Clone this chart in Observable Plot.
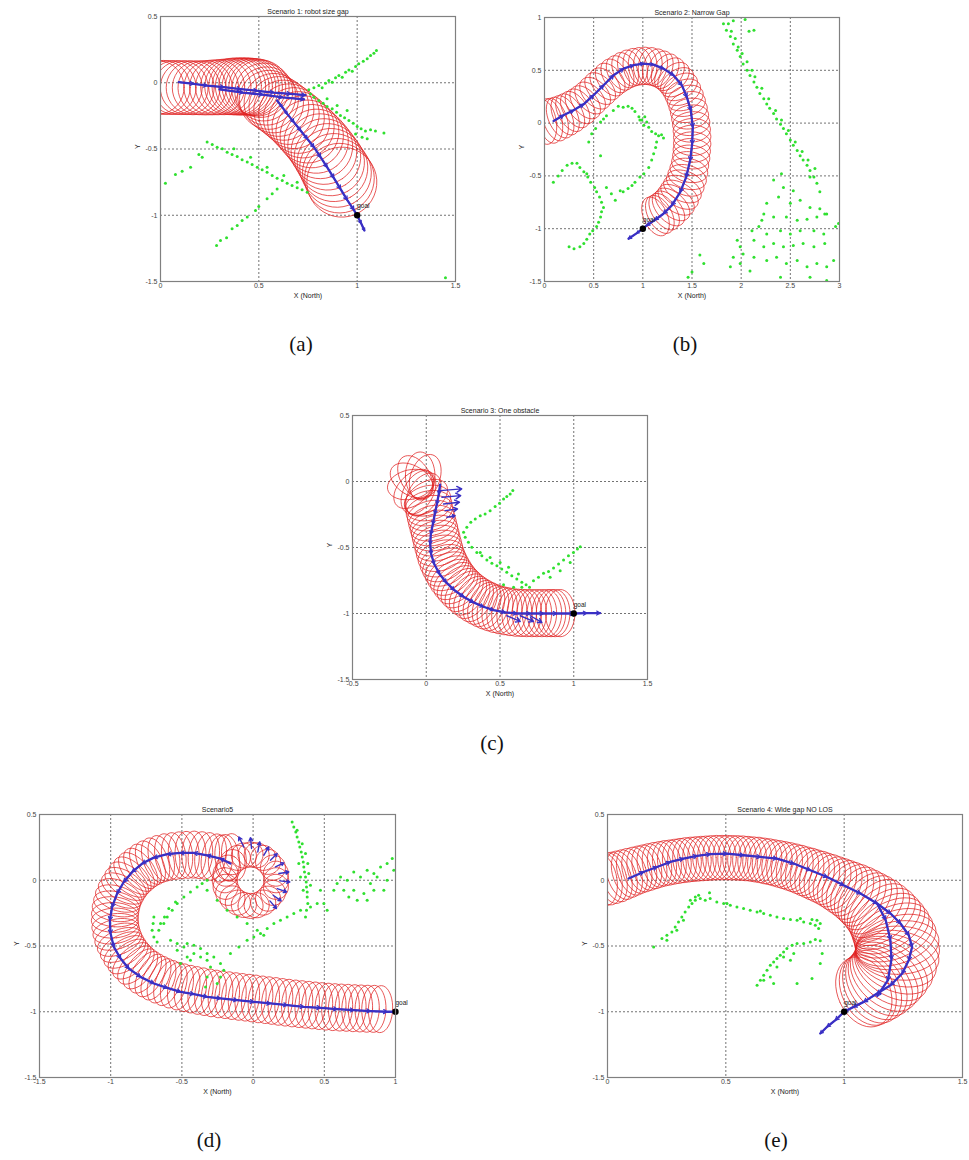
<!DOCTYPE html>
<html><head><meta charset="utf-8">
<script src="https://cdn.jsdelivr.net/npm/d3@7"></script>
<script src="https://cdn.jsdelivr.net/npm/@observablehq/plot@0.6"></script>
<style>
html,body{margin:0;padding:0;background:#fff;}
#page{position:relative;width:969px;height:1160px;overflow:hidden;background:#fff;}
.panel{position:absolute;}
.cap{position:absolute;font-family:"Liberation Serif","Times New Roman",serif;font-size:21px;color:#111;transform:translate(-50%,-50%);white-space:nowrap;}
</style></head><body><div id="page"></div>
<script>
// ---------------- Scenario 1 (a) ----------------
const aTitle = "Scenario 1: robot size gap";
const aXTicks = [0, 0.5, 1, 1.5];
const aYTicks = [-1.5, -1, -0.5, 0, 0.5];
const aTube = [[-0.017,-0.035],[0.014,-0.035],[0.044,-0.036],[0.075,-0.036],[0.105,-0.037],[0.136,-0.037],[0.166,-0.038],[0.197,-0.038],[0.227,-0.038],[0.258,-0.036],[0.288,-0.034],[0.319,-0.032],[0.346,-0.030],[0.369,-0.028],[0.390,-0.028],[0.407,-0.028],[0.424,-0.028],[0.441,-0.028],[0.458,-0.030],[0.475,-0.032],[0.492,-0.036],[0.508,-0.045],[0.525,-0.070],[0.540,-0.100],[0.551,-0.129],[0.576,-0.154],[0.602,-0.179],[0.627,-0.207],[0.653,-0.237],[0.678,-0.267],[0.702,-0.300],[0.725,-0.333],[0.747,-0.368],[0.769,-0.403],[0.792,-0.441],[0.812,-0.479],[0.831,-0.519],[0.849,-0.559],[0.866,-0.599],[0.881,-0.640],[0.897,-0.680],[0.910,-0.720],[0.922,-0.750]];
const aTubeR = [0.137,0.137,0.137,0.137,0.137,0.137,0.137,0.137,0.138,0.139,0.140,0.141,0.142,0.144,0.145,0.145,0.145,0.145,0.145,0.145,0.145,0.146,0.147,0.148,0.150,0.151,0.152,0.153,0.154,0.155,0.157,0.158,0.160,0.161,0.163,0.165,0.167,0.169,0.171,0.173,0.175,0.177,0.178];
const aPath1 = [[0.093,0.004],[0.169,-0.008],[0.237,-0.021],[0.322,-0.033],[0.407,-0.048],[0.492,-0.061],[0.576,-0.074],[0.661,-0.084],[0.737,-0.094]];
const aPath2 = [[0.30,-0.05],[0.42,-0.075],[0.52,-0.09],[0.62,-0.11],[0.73,-0.125]];
const aPath3 = [[0.593,-0.134],[0.619,-0.184],[0.644,-0.235],[0.678,-0.297],[0.712,-0.360],[0.746,-0.423],[0.780,-0.486],[0.814,-0.562],[0.847,-0.637],[0.881,-0.718],[0.915,-0.801],[0.949,-0.884],[0.983,-0.959],[1.0,-1.002],[1.020,-1.060],[1.037,-1.115]];
const aObs = [[0.754,-0.053],[0.780,-0.038],[0.805,-0.021],[0.822,-0.038],[0.839,-0.003],[0.856,0.017],[0.873,0.004],[0.890,0.037],[0.907,0.055],[0.924,0.042],[0.941,0.080],[0.958,0.097],[0.975,0.087],[0.992,0.123],[1.008,0.143],[1.031,0.163],[1.051,0.181],[1.068,0.206],[1.085,0.223],[1.098,0.243],
[0.763,-0.084],[0.780,-0.109],[0.805,-0.134],[0.827,-0.154],[0.847,-0.179],[0.873,-0.197],[0.895,-0.222],[0.915,-0.247],[0.936,-0.265],[0.958,-0.285],[0.980,-0.305],[1.0,-0.330],[1.020,-0.348],[1.042,-0.365],[1.068,-0.355],[1.093,-0.365],[1.136,-0.380],[0.992,-0.386],[1.025,-0.411],[1.051,-0.423],[0.847,-0.121],[0.898,-0.172],[0.949,-0.209],
[0.237,-0.448],[0.263,-0.466],[0.288,-0.486],[0.314,-0.499],[0.339,-0.524],[0.364,-0.542],[0.390,-0.557],[0.415,-0.582],[0.441,-0.599],[0.466,-0.617],[0.492,-0.637],[0.517,-0.657],[0.542,-0.675],[0.568,-0.700],[0.593,-0.720],[0.619,-0.738],[0.644,-0.758],[0.669,-0.775],[0.695,-0.793],[0.720,-0.808],[0.746,-0.826],[0.373,-0.499],[0.458,-0.562],[0.542,-0.637],[0.627,-0.700],[0.695,-0.750],
[0.212,-0.562],[0.195,-0.542],[0.153,-0.637],[0.110,-0.667],[0.076,-0.692],[0.025,-0.758],
[0.593,-0.801],[0.568,-0.838],[0.542,-0.876],[0.500,-0.934],[0.483,-0.964],[0.441,-1.014],[0.415,-1.040],[0.390,-1.077],[0.364,-1.102],[0.336,-1.170],[0.305,-1.190],[0.285,-1.228],[1.449,-1.472]];

// ---------------- Scenario 2 (b) ----------------
const bTitle = "Scenario 2: Narrow Gap";
const bXTicks = [0, 0.5, 1, 1.5, 2, 2.5, 3];
const bYTicks = [-1.5, -1, -0.5, 0, 0.5, 1];
const bTube = [[0.000,0.011],[0.058,0.020],[0.108,0.033],[0.159,0.052],[0.210,0.074],[0.261,0.099],[0.312,0.128],[0.363,0.159],[0.414,0.197],[0.464,0.238],[0.515,0.283],[0.566,0.327],[0.617,0.371],[0.668,0.412],[0.719,0.447],[0.769,0.475],[0.820,0.501],[0.871,0.520],[0.922,0.532],[0.973,0.539],[1.024,0.542],[1.075,0.539],[1.125,0.529],[1.176,0.513],[1.227,0.491],[1.271,0.463],[1.312,0.428],[1.349,0.387],[1.380,0.343],[1.407,0.292],[1.431,0.238],[1.451,0.181],[1.468,0.121],[1.481,0.058],[1.492,-0.005],[1.498,-0.068],[1.502,-0.131],[1.502,-0.195],[1.498,-0.258],[1.492,-0.321],[1.481,-0.384],[1.468,-0.448],[1.451,-0.511],[1.431,-0.568],[1.403,-0.625],[1.373,-0.678],[1.339,-0.726],[1.302,-0.770],[1.261,-0.808],[1.217,-0.839],[1.173,-0.865],[1.129,-0.884]];
const bAcross = [0.23,0.23,0.225,0.22,0.215,0.21,0.205,0.2,0.195,0.19,0.19,0.19,0.19,0.19,0.19,0.19,0.19,0.19,0.19,0.19,0.19,0.19,0.19,0.19,0.19,0.19,0.19,0.19,0.19,0.19,0.19,0.19,0.19,0.19,0.19,0.19,0.19,0.19,0.19,0.19,0.19,0.195,0.2,0.2,0.205,0.21,0.21,0.21,0.21,0.21,0.21,0.21];
const bAlong = 0.12;
const bPath = [[0.092,0.020],[0.193,0.074],[0.295,0.121],[0.397,0.178],[0.498,0.264],[0.600,0.358],[0.702,0.453],[0.803,0.516],[0.905,0.548],[1.007,0.564],[1.108,0.554],[1.210,0.516],[1.312,0.453],[1.397,0.358],[1.447,0.248],[1.488,0.121],[1.508,-0.037],[1.502,-0.195],[1.481,-0.353],[1.441,-0.511],[1.380,-0.653],[1.295,-0.779],[1.210,-0.858],[1.125,-0.915],[1.041,-0.969],[1.0,-1.0],[0.939,-1.042],[0.854,-1.095]];
const bObs = [[0.45,-0.18],[0.48,-0.10],[0.52,-0.05],[0.57,0.01],[0.60,0.04],[0.63,0.07],[0.70,0.12],[0.75,0.16],[0.80,0.15],[0.85,0.16],[0.89,0.14],[0.92,0.11],[0.96,0.06],[0.99,0.03],[1.01,-0.02],[1.04,0.01],[1.06,-0.04],[1.09,-0.08],[1.13,-0.10],[1.16,-0.12],[1.19,-0.11],[1.21,-0.14],[1.14,-0.18],[1.13,-0.23],[1.11,-0.29],[1.09,-0.35],[1.06,-0.42],[1.01,-0.48],[0.97,-0.51],[0.92,-0.56],[0.89,-0.59],[0.85,-0.62],[0.80,-0.65],[0.77,-0.64],[0.57,-0.31],[0.97,0.03],[1.02,0.06],
[0.09,-0.56],[0.14,-0.50],[0.18,-0.45],[0.23,-0.40],[0.28,-0.38],[0.33,-0.38],[0.36,-0.42],[0.40,-0.46],[0.44,-0.51],[0.47,-0.56],[0.51,-0.61],[0.53,-0.65],[0.56,-0.70],[0.58,-0.75],[0.60,-0.80],[0.58,-0.84],[0.57,-0.89],[0.55,-0.94],[0.53,-0.98],[0.49,-1.02],[0.46,-1.05],[0.43,-1.10],[0.40,-1.14],[0.36,-1.17],[0.30,-1.19],[0.25,-1.17],[0.63,-0.61],[0.68,-0.67],[0.72,-0.73],[0.43,-0.48],
[1.82,0.94],[1.85,0.88],[1.89,0.82],[1.92,0.75],[1.96,0.69],[1.99,0.63],[2.02,0.56],[2.06,0.50],[2.09,0.45],[2.13,0.39],[2.16,0.34],[2.19,0.28],[2.23,0.23],[2.26,0.18],[2.29,0.14],[2.33,0.09],[2.36,0.04],[2.40,-0.01],[2.43,-0.05],[2.46,-0.10],[2.50,-0.16],[2.53,-0.21],[2.57,-0.26],[2.60,-0.31],[2.63,-0.35],[2.67,-0.40],[2.70,-0.45],[2.74,-0.51],[2.77,-0.57],[2.80,-0.65],
[1.87,0.94],[1.90,0.87],[1.94,0.80],[1.97,0.72],[2.01,0.66],[2.06,0.58],[2.11,0.50],[2.14,0.44],[2.21,0.33],[2.28,0.23],[2.35,0.12],[2.41,0.03],[2.48,-0.07],[2.55,-0.18],[2.62,-0.27],[2.68,-0.35],[2.75,-0.43],[2.70,-0.51],[1.92,0.97],[2.04,0.98],[2.13,0.88],[2.08,0.87],[2.80,-0.81],[2.85,-0.86],
[2.33,-0.54],[2.43,-0.61],[2.41,-0.48],[2.53,-0.64],[2.38,-0.70],[2.26,-0.76],[2.50,-0.76],[2.60,-0.73],[2.70,-0.80],[2.23,-0.86],[2.33,-0.89],[2.46,-0.89],[2.57,-0.92],[2.67,-0.91],[2.77,-0.89],[2.87,-0.86],[2.18,-0.98],[2.26,-1.05],[2.40,-1.02],[2.50,-1.05],[2.60,-1.02],[2.74,-1.02],[2.84,-1.05],[2.13,-1.11],[2.23,-1.17],[2.33,-1.14],[2.43,-1.17],[2.53,-1.16],[2.63,-1.14],[2.74,-1.17],[2.85,-1.14],[2.96,-0.98],[2.99,-0.95],[2.02,-1.24],[2.13,-1.27],[2.26,-1.30],[2.36,-1.27],[2.46,-1.33],[2.57,-1.30],[2.67,-1.36],[2.77,-1.33],[2.87,-1.36],[2.94,-1.30],[1.99,-1.33],[2.09,-1.40],[1.92,-1.27],[1.89,-1.36],[2.40,-1.46],[2.70,-1.46],[2.87,-1.49],[1.58,-1.25],[1.62,-1.33],[1.50,-1.41],[1.46,-1.46],[1.99,-1.17],[1.96,-1.11],[2.11,-1.02],[2.21,-0.92]];

// ---------------- Scenario 3 (c) ----------------
const cTitle = "Scenario 3: One obstacle";
const cXTicks = [-0.5, 0, 0.5, 1, 1.5];
const cYTicks = [-1.5, -1, -0.5, 0, 0.5];
const cTube = [[-0.007,0.032],[-0.041,0.045],[-0.075,0.032],[-0.098,0.007],[-0.105,-0.023],[-0.086,-0.056],[-0.053,-0.082],[-0.019,-0.099],[0.0,-0.119],[0.008,-0.145],[0.015,-0.183],[0.022,-0.221],[0.030,-0.258],[0.038,-0.296],[0.047,-0.334],[0.056,-0.372],[0.064,-0.410],[0.072,-0.448],[0.081,-0.486],[0.090,-0.524],[0.100,-0.562],[0.112,-0.600],[0.125,-0.632],[0.140,-0.663],[0.156,-0.695],[0.173,-0.726],[0.192,-0.754],[0.212,-0.782],[0.234,-0.808],[0.257,-0.832],[0.283,-0.856],[0.309,-0.878],[0.337,-0.898],[0.366,-0.916],[0.394,-0.932],[0.422,-0.946],[0.452,-0.958],[0.483,-0.969],[0.514,-0.977],[0.546,-0.984],[0.580,-0.990],[0.614,-0.994],[0.648,-0.996],[0.682,-0.997],[0.716,-0.997],[0.750,-0.997],[0.784,-0.997],[0.818,-0.997],[0.846,-0.997],[0.874,-0.997],[0.908,-0.997]];
const cAcross = 0.160;
const cAlong = 0.10;
const cPath = [[0.094,-0.023],[0.085,-0.094],[0.072,-0.170],[0.058,-0.246],[0.045,-0.322],[0.031,-0.398],[0.027,-0.473],[0.033,-0.549],[0.054,-0.625],[0.090,-0.701],[0.135,-0.764],[0.189,-0.822],[0.253,-0.873],[0.320,-0.916],[0.388,-0.949],[0.456,-0.974],[0.535,-0.992],[0.614,-1.0],[0.705,-1.0],[0.795,-1.0],[0.885,-1.0],[1.0,-1.0],[1.089,-0.997],[1.179,-0.997]];
const cFanFrom = [[0.094,-0.069],[0.106,-0.119],[0.117,-0.170],[0.128,-0.221],[0.140,-0.271],[0.546,-1.017],[0.637,-1.017],[0.705,-1.017]];
const cFanTo = [[0.241,-0.056],[0.234,-0.107],[0.225,-0.157],[0.212,-0.208],[0.196,-0.259],[0.637,-1.060],[0.727,-1.060],[0.784,-1.068]];
const cObs = [[0.253,-0.385],[0.275,-0.347],[0.302,-0.309],[0.332,-0.284],[0.366,-0.259],[0.399,-0.246],[0.433,-0.221],[0.467,-0.190],[0.497,-0.165],[0.524,-0.132],[0.546,-0.114],[0.569,-0.094],[0.587,-0.069],
[0.264,-0.423],[0.286,-0.461],[0.309,-0.499],[0.343,-0.537],[0.377,-0.562],[0.411,-0.595],[0.445,-0.620],[0.479,-0.638],[0.512,-0.663],[0.546,-0.688],[0.580,-0.714],[0.614,-0.739],[0.648,-0.764],[0.677,-0.782],[0.700,-0.802],[0.366,-0.537],[0.433,-0.575],[0.501,-0.613],[0.558,-0.650],[0.625,-0.701],[0.524,-0.782],[0.592,-0.802],[0.648,-0.802],
[0.727,-0.752],[0.761,-0.726],[0.795,-0.696],[0.829,-0.681],[0.863,-0.656],[0.897,-0.625],[0.931,-0.595],[0.964,-0.562],[0.998,-0.537],[1.025,-0.511],[1.044,-0.494],[0.908,-0.676],[0.976,-0.613],[0.840,-0.726]];

// ---------------- Scenario 5 (d) ----------------
const dTitle = "Scenario5";
const dXTicks = [-1.5, -1, -0.5, 0, 0.5, 1];
const dYTicks = [-1.5, -1, -0.5, 0, 0.5];
const dLoop = [[0.162,0.0],[0.139,-0.096],[0.071,-0.170],[-0.018,-0.195],[-0.107,-0.170],[-0.175,-0.096],[-0.199,0.0],[-0.175,0.096],[-0.107,0.170],[-0.018,0.195],[0.071,0.170],[0.139,0.096],[0.160,0.050],[0.105,-0.140],[0.025,-0.190],[-0.065,-0.188],[-0.145,-0.138],[-0.193,-0.050],[-0.193,0.050],[-0.145,0.138],[-0.065,0.188],[0.025,0.190],[0.105,0.140],[0.160,-0.050]];
const dLoopR = 0.088;
const dTube = [[-0.135,0.177],[-0.182,0.170],[-0.229,0.165],[-0.276,0.176],[-0.323,0.185],[-0.370,0.191],[-0.416,0.195],[-0.463,0.193],[-0.510,0.190],[-0.557,0.184],[-0.603,0.177],[-0.645,0.166],[-0.685,0.152],[-0.721,0.134],[-0.756,0.114],[-0.789,0.090],[-0.819,0.063],[-0.847,0.035],[-0.873,0.005],[-0.895,-0.028],[-0.915,-0.063],[-0.933,-0.100],[-0.948,-0.139],[-0.958,-0.180],[-0.966,-0.220],[-0.970,-0.262],[-0.971,-0.304],[-0.968,-0.346],[-0.962,-0.388],[-0.952,-0.429],[-0.938,-0.469],[-0.921,-0.508],[-0.901,-0.545],[-0.878,-0.580],[-0.852,-0.613],[-0.823,-0.645],[-0.791,-0.674],[-0.757,-0.700],[-0.720,-0.724],[-0.682,-0.745],[-0.643,-0.765],[-0.601,-0.782],[-0.557,-0.798],[-0.510,-0.811],[-0.463,-0.823],[-0.416,-0.833],[-0.369,-0.843],[-0.322,-0.852],[-0.276,-0.861],[-0.229,-0.868],[-0.182,-0.874],[-0.135,-0.881],[-0.088,-0.887],[-0.041,-0.893],[0.005,-0.899],[0.052,-0.906],[0.099,-0.912],[0.146,-0.918],[0.192,-0.925],[0.239,-0.931],[0.286,-0.937],[0.333,-0.942],[0.380,-0.947],[0.426,-0.952],[0.473,-0.957],[0.520,-0.961],[0.567,-0.965],[0.614,-0.968],[0.661,-0.970],[0.708,-0.973],[0.754,-0.975],[0.801,-0.977],[0.848,-0.978],[0.895,-0.980]];
const dAcross = 0.165;
const dAlong = 0.085;
const dPath = [[-0.159,0.127],[-0.229,0.165],[-0.323,0.190],[-0.416,0.208],[-0.510,0.208],[-0.603,0.198],[-0.697,0.172],[-0.779,0.127],[-0.849,0.063],[-0.908,-0.013],[-0.955,-0.101],[-0.990,-0.203],[-1.006,-0.304],[-1.001,-0.405],[-0.978,-0.507],[-0.931,-0.595],[-0.873,-0.671],[-0.791,-0.735],[-0.697,-0.785],[-0.603,-0.818],[-0.510,-0.849],[-0.416,-0.866],[-0.323,-0.887],[-0.229,-0.899],[-0.112,-0.912],[0.005,-0.925],[0.122,-0.937],[0.239,-0.950],[0.356,-0.963],[0.473,-0.970],[0.590,-0.980],[0.707,-0.988],[0.824,-0.995],[0.941,-1.0],[1.0,-1.0]];
const dFanFrom = [[-0.065,0.253],[-0.011,0.241],[0.033,0.215],[0.075,0.190],[0.122,0.152],[0.157,0.101],[0.181,0.051],[0.188,-0.005],[0.169,-0.063],[0.141,-0.114],[0.118,-0.157]];
const dFanTo = [[-0.100,0.329],[-0.018,0.324],[0.047,0.291],[0.110,0.253],[0.169,0.203],[0.216,0.132],[0.251,0.063],[0.258,-0.013],[0.235,-0.089],[0.197,-0.157],[0.164,-0.215]];
const dObs = [[0.274,0.443],[0.286,0.405],[0.30,0.367],[0.309,0.329],[0.321,0.291],[0.328,0.253],[0.338,0.215],[0.345,0.177],[0.352,0.139],[0.356,0.101],[0.361,0.063],[0.368,0.025],[0.373,-0.013],[0.375,-0.051],[0.380,-0.089],[0.380,-0.127],[0.384,-0.177],[0.375,-0.228],[0.368,-0.279],[0.309,0.380],[0.345,0.278],[0.368,0.203],[0.384,0.127],[0.391,0.051],[0.403,-0.038],[0.352,-0.076],[0.333,0.025],[0.321,0.127],
[0.614,0.025],[0.661,0.0],[0.707,0.063],[0.754,0.025],[0.801,0.076],[0.848,0.051],[0.895,0.101],[0.941,0.127],[0.977,0.165],[0.988,0.076],[0.637,-0.076],[0.707,-0.076],[0.778,-0.101],[0.848,-0.076],[0.918,-0.076],[0.824,-0.025],[0.567,-0.076],[0.497,-0.177],[0.520,-0.228],[0.473,-0.076],[0.731,-0.152],[0.801,-0.152],[0.871,0.025],[0.672,-0.127],[0.941,0.0],[0.59,-0.025],
[-0.159,-0.557],[-0.100,-0.507],[-0.042,-0.456],[0.005,-0.431],[0.052,-0.405],[0.099,-0.367],[0.146,-0.329],[0.192,-0.304],[0.239,-0.279],[0.286,-0.253],[0.333,-0.228],[0.403,-0.203],[0.450,-0.177],
[-0.697,-0.279],[-0.702,-0.329],[-0.709,-0.380],[-0.697,-0.431],[-0.674,-0.469],[-0.627,-0.329],[-0.603,-0.279],[-0.568,-0.228],[-0.533,-0.177],[-0.486,-0.127],[-0.440,-0.089],[-0.393,-0.051],[-0.358,-0.025],[-0.323,0.0],[-0.662,-0.380],[-0.650,-0.329],[-0.622,-0.279],[-0.592,-0.215],[-0.545,-0.165],
[-0.323,-0.076],[-0.252,-0.152],[-0.182,-0.228],[-0.112,-0.279],[-0.042,-0.329],[0.029,-0.380],[0.075,-0.418],
[-0.580,-0.456],[-0.533,-0.481],[-0.463,-0.481],[-0.416,-0.494],[-0.369,-0.519],[-0.323,-0.557],[-0.276,-0.583],[-0.229,-0.633],[-0.206,-0.684],[-0.229,-0.735],[-0.252,-0.785],[-0.510,-0.633],[-0.463,-0.583],[-0.416,-0.557],[-0.369,-0.583],[-0.323,-0.608],[-0.299,-0.659],[-0.323,-0.735],[-0.334,-0.811],[-0.533,-0.532],[-0.486,-0.507],[-0.440,-0.608]];

// ---------------- Scenario 4 (e) ----------------
const eTitle = "Scenario 4: Wide gap NO LOS";
const eXTicks = [0, 0.5, 1, 1.5];
const eYTicks = [-1.5, -1, -0.5, 0, 0.5];
const eTube = [[-0.020,0.002],[0.000,0.008],[0.020,0.016],[0.039,0.025],[0.060,0.038],[0.082,0.051],[0.103,0.064],[0.124,0.076],[0.145,0.086],[0.166,0.096],[0.188,0.107],[0.209,0.117],[0.230,0.125],[0.251,0.132],[0.272,0.138],[0.293,0.144],[0.315,0.150],[0.336,0.155],[0.357,0.159],[0.378,0.162],[0.399,0.165],[0.420,0.167],[0.441,0.170],[0.462,0.172],[0.484,0.172],[0.505,0.172],[0.526,0.171],[0.547,0.170],[0.568,0.168],[0.589,0.165],[0.611,0.161],[0.632,0.157],[0.653,0.151],[0.674,0.144],[0.695,0.137],[0.716,0.129],[0.737,0.120],[0.758,0.111],[0.780,0.100],[0.801,0.089],[0.822,0.076],[0.843,0.063],[0.864,0.049],[0.885,0.035],[0.906,0.020],[0.928,0.005],[0.949,-0.012],[0.970,-0.030],[0.991,-0.049],[1.012,-0.068],[1.034,-0.089],[1.055,-0.111],[1.075,-0.135],[1.094,-0.160],[1.113,-0.187],[1.132,-0.215],[1.149,-0.247],[1.165,-0.279],[1.178,-0.313],[1.190,-0.347],[1.201,-0.382],[1.210,-0.418],[1.218,-0.456],[1.224,-0.494],[1.225,-0.532],[1.224,-0.570],[1.218,-0.608],[1.210,-0.646],[1.198,-0.680],[1.184,-0.714],[1.169,-0.745],[1.153,-0.773],[1.136,-0.797],[1.118,-0.818],[1.100,-0.835],[1.083,-0.849]];
const eAcross = [0.110,0.110,0.109,0.108,0.106,0.104,0.102,0.100,0.099,0.098,0.097,0.096,0.095,0.095,0.094,0.094,0.094,0.094,0.094,0.094,0.094,0.094,0.094,0.094,0.094,0.094,0.094,0.094,0.094,0.094,0.094,0.095,0.095,0.096,0.096,0.097,0.098,0.099,0.100,0.101,0.102,0.104,0.105,0.107,0.108,0.110,0.112,0.115,0.118,0.121,0.125,0.129,0.133,0.137,0.142,0.147,0.152,0.157,0.162,0.166,0.170,0.173,0.176,0.178,0.178,0.178,0.177,0.175,0.173,0.170,0.168,0.165,0.162,0.160,0.157,0.155];
const eAlong = [0.060,0.060,0.060,0.060,0.060,0.060,0.060,0.060,0.060,0.060,0.060,0.060,0.060,0.060,0.060,0.060,0.060,0.060,0.060,0.060,0.060,0.060,0.060,0.060,0.060,0.060,0.060,0.060,0.060,0.060,0.060,0.060,0.060,0.061,0.061,0.062,0.062,0.063,0.063,0.064,0.065,0.066,0.067,0.068,0.069,0.070,0.071,0.073,0.074,0.076,0.078,0.080,0.082,0.084,0.086,0.088,0.090,0.092,0.094,0.096,0.098,0.099,0.100,0.101,0.102,0.103,0.104,0.105,0.106,0.107,0.108,0.109,0.110,0.110,0.110,0.110];
const ePath = [[0.089,0.013],[0.152,0.063],[0.209,0.101],[0.265,0.139],[0.321,0.165],[0.378,0.185],[0.434,0.198],[0.505,0.203],[0.575,0.190],[0.646,0.177],[0.716,0.165],[0.787,0.127],[0.857,0.076],[0.928,0.025],[0.998,-0.038],[1.069,-0.101],[1.139,-0.177],[1.196,-0.253],[1.238,-0.329],[1.273,-0.418],[1.287,-0.507],[1.273,-0.608],[1.245,-0.709],[1.196,-0.798],[1.139,-0.861],[1.083,-0.925],[1.040,-0.963],[1.0,-1.0],[0.963,-1.064],[0.928,-1.114],[0.899,-1.165]];
const ePath2 = [[1.139,-0.177],[1.175,-0.300],[1.195,-0.450],[1.200,-0.600],[1.185,-0.760],[1.140,-0.880]];
const eObs = [[0.195,-0.507],[0.230,-0.443],[0.251,-0.418],[0.272,-0.393],[0.286,-0.355],[0.300,-0.317],[0.314,-0.279],[0.328,-0.241],[0.343,-0.203],[0.357,-0.177],[0.371,-0.152],[0.392,-0.139],[0.413,-0.152],[0.434,-0.139],[0.462,-0.165],[0.491,-0.177],[0.519,-0.190],[0.547,-0.203],[0.575,-0.215],[0.603,-0.228],[0.632,-0.241],[0.660,-0.253],[0.688,-0.266],[0.716,-0.279],[0.744,-0.291],[0.773,-0.299],[0.801,-0.304],[0.829,-0.317],[0.857,-0.329],[0.878,-0.342],[0.892,-0.367],[0.899,-0.329],[0.885,-0.304],[0.864,-0.299],[0.350,-0.152],[0.371,-0.127],[0.385,-0.114],[0.431,-0.096],[0.321,-0.304],[0.293,-0.380],[0.251,-0.456],[0.505,-0.177],[0.646,-0.233],[0.815,-0.291],
[0.632,-0.798],[0.646,-0.760],[0.660,-0.722],[0.674,-0.684],[0.688,-0.646],[0.702,-0.621],[0.716,-0.595],[0.730,-0.570],[0.744,-0.545],[0.758,-0.519],[0.780,-0.494],[0.801,-0.481],[0.829,-0.481],[0.857,-0.469],[0.878,-0.451],[0.899,-0.461],[0.907,-0.557],[0.899,-0.633],[0.864,-0.747],[0.801,-0.785],[0.702,-0.785],[0.716,-0.659],[0.744,-0.583],[0.787,-0.557],[0.773,-0.608],[0.660,-0.760],[0.688,-0.735]];

const goal = [[1, -1]];
const captions = ["(a)", "(b)", "(c)", "(d)", "(e)"];

// ---------------- drawing ----------------
const RED = "#e02222", BLUE = "#3a30c4", GREEN = "#2fe02f";

function ellipsePts(centers, across, along, kx, ky, key) {
  const out = [];
  centers.forEach(([cx, cy], i) => {
    const p = centers[Math.max(0, i - 1)], n = centers[Math.min(centers.length - 1, i + 1)];
    const dx = (n[0] - p[0]) * kx, dy = -(n[1] - p[1]) * ky;
    const th = (dx || dy) ? Math.atan2(dy, dx) : 0;
    const A = (Array.isArray(across) ? across[i] : across) * kx;
    const B = (Array.isArray(along) ? along[i] : along) * kx;
    for (let k = 0; k <= 40; k++) {
      const t = 2 * Math.PI * k / 40, ex = B * Math.cos(t), ey = A * Math.sin(t);
      const px = ex * Math.cos(th) - ey * Math.sin(th), py = ex * Math.sin(th) + ey * Math.cos(th);
      out.push({x: cx + px / kx, y: cy - py / ky, id: key + i});
    }
  });
  return out;
}
function segs(path) {
  const s = [];
  for (let i = 0; i < path.length - 1; i++) s.push({x1: path[i][0], y1: path[i][1], x2: path[i + 1][0], y2: path[i + 1][1]});
  return s;
}
function pairs(a, b) { return a.map((p, i) => ({x1: p[0], y1: p[1], x2: b[i][0], y2: b[i][1]})); }

const ML = 34, MR = 6, MT = 18, MB = 26;
function panel(cfg) {
  const kx = cfg.w / (cfg.x[1] - cfg.x[0]), ky = cfg.h / (cfg.y[1] - cfg.y[0]);
  const marks = [
    Plot.gridX(cfg.xt.slice(1, -1), {stroke: "#222", strokeOpacity: 0.8, strokeDasharray: "2,2", strokeWidth: 0.8}),
    Plot.gridY(cfg.yt.slice(1, -1), {stroke: "#222", strokeOpacity: 0.8, strokeDasharray: "2,2", strokeWidth: 0.8})
  ];
  cfg.tubes.forEach((t, j) => {
    marks.push(Plot.line(ellipsePts(t.c, t.a, t.b, kx, ky, "t" + j + "_"), {x: "x", y: "y", z: "id", stroke: RED, strokeWidth: 0.75, clip: true}));
  });
  marks.push(Plot.dot(cfg.obs, {x: d => d[0], y: d => d[1], r: 1.5, fill: GREEN, clip: true}));
  cfg.paths.forEach(p => {
    marks.push(Plot.line(p, {x: d => d[0], y: d => d[1], stroke: BLUE, strokeWidth: 2.3, clip: true}));
    marks.push(Plot.arrow(segs(p), {x1: "x1", y1: "y1", x2: "x2", y2: "y2", stroke: BLUE, strokeWidth: 1.2, headLength: 5, clip: true}));
  });
  if (cfg.fan) marks.push(Plot.arrow(cfg.fan, {x1: "x1", y1: "y1", x2: "x2", y2: "y2", stroke: BLUE, strokeWidth: 1.4, headLength: 6, clip: true}));
  marks.push(
    Plot.dot(goal, {x: d => d[0], y: d => d[1], r: 3.2, fill: "#000"}),
    Plot.text(goal, {x: d => d[0], y: d => d[1], text: () => "goal", dx: 0, dy: -9, textAnchor: "start", fontSize: 6.5, fill: "#222"}),
    Plot.frame({stroke: "#808080", strokeWidth: 1.2}),
    Plot.axisX(cfg.xt, {tickSize: 0, tickPadding: 2, fontSize: 7, tickFormat: d => String(d), label: null}),
    Plot.axisY(cfg.yt, {tickSize: 0, tickPadding: 3, fontSize: 7, tickFormat: d => String(d), label: null}),
    Plot.text([cfg.title], {frameAnchor: "top", dy: -7, fontSize: 7, text: d => d, fill: "#222"}),
    Plot.text(["X (North)"], {frameAnchor: "bottom", dy: 16, fontSize: 7, text: d => d, fill: "#222"}),
    Plot.text(["Y"], {frameAnchor: "left", dx: -23, rotate: -90, fontSize: 7, text: d => d, fill: "#222"})
  );
  const svg = Plot.plot({
    width: cfg.w + ML + MR, height: cfg.h + MT + MB,
    marginLeft: ML, marginRight: MR, marginTop: MT, marginBottom: MB,
    x: {domain: cfg.x}, y: {domain: cfg.y},
    style: {fontFamily: "'Liberation Sans', Arial, sans-serif", fontSize: "7px", color: "#444", background: "transparent", overflow: "visible"},
    marks
  });
  const div = document.createElement("div");
  div.className = "panel";
  div.style.left = (cfg.left - ML) + "px";
  div.style.top = (cfg.top - MT) + "px";
  div.appendChild(svg);
  document.getElementById("page").appendChild(div);
}

panel({left: 160, top: 16, w: 295, h: 265, x: [0, 1.5], y: [-1.5, 0.5], xt: aXTicks, yt: aYTicks, title: aTitle,
  tubes: [{c: aTube, a: aTubeR, b: aTubeR}], paths: [aPath1, aPath2, aPath3], obs: aObs});
panel({left: 544, top: 17, w: 295, h: 264, x: [0, 3], y: [-1.5, 1], xt: bXTicks, yt: bYTicks, title: bTitle,
  tubes: [{c: bTube, a: bAcross, b: bAlong}], paths: [bPath], obs: bObs});
panel({left: 352, top: 415, w: 295, h: 264, x: [-0.5, 1.5], y: [-1.5, 0.5], xt: cXTicks, yt: cYTicks, title: cTitle,
  tubes: [{c: cTube, a: cAcross, b: cAlong}], paths: [cPath], obs: cObs, fan: pairs(cFanFrom, cFanTo)});
panel({left: 39, top: 814, w: 356, h: 263, x: [-1.5, 1], y: [-1.5, 0.5], xt: dXTicks, yt: dYTicks, title: dTitle,
  tubes: [{c: dLoop, a: dLoopR, b: dLoopR}, {c: dTube, a: dAcross, b: dAlong}], paths: [dPath], obs: dObs, fan: pairs(dFanFrom, dFanTo)});
panel({left: 607, top: 814, w: 355, h: 263, x: [0, 1.5], y: [-1.5, 0.5], xt: eXTicks, yt: eYTicks, title: eTitle,
  tubes: [{c: eTube, a: eAcross, b: eAlong}], paths: [ePath, ePath2], obs: eObs});

const capPos = [[301, 344], [685, 344], [492, 743], [209, 1140], [776, 1140]];
captions.forEach((t, i) => {
  const s = document.createElement("div");
  s.className = "cap";
  s.textContent = t;
  s.style.left = capPos[i][0] + "px";
  s.style.top = capPos[i][1] + "px";
  document.getElementById("page").appendChild(s);
});
</script></body></html>
